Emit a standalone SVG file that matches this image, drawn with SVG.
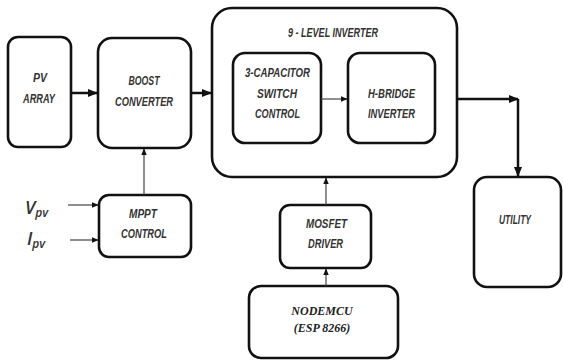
<svg xmlns="http://www.w3.org/2000/svg" width="563" height="361" viewBox="0 0 563 361">
  <defs>
    <marker id="ah" viewBox="0 0 10 10" refX="9" refY="5" markerWidth="4" markerHeight="4" orient="auto" markerUnits="strokeWidth">
      <path d="M0,1 L10,5 L0,9 Z" fill="#111"/>
    </marker>
    <marker id="ahs" viewBox="0 0 10 10" refX="9" refY="5" markerWidth="6" markerHeight="6" orient="auto" markerUnits="strokeWidth">
      <path d="M0,1 L10,5 L0,9 Z" fill="#111"/>
    </marker>
  </defs>
  <style>
    .box { fill: #fff; stroke: #111; stroke-width: 2.6; }
    .lbl { font-family: "Liberation Sans", Arial, sans-serif; font-weight: bold; font-style: italic; font-size: 12px; fill: #333; text-anchor: middle; }
    .ser { font-family: "Liberation Serif", "Times New Roman", serif; font-weight: bold; font-style: italic; font-size: 12px; fill: #222; text-anchor: middle; }
    .sym { font-family: "Open Sans", "Liberation Sans", sans-serif; font-style: italic; font-weight: 600; fill: #333; }
    .thick { fill: none; stroke: #111; stroke-width: 2.5; }
    .thin { fill: none; stroke: #444; stroke-width: 1.2; }
  </style>
  <rect width="563" height="361" fill="#fff"/>

  <g id="pv-array">
    <rect class="box" x="8" y="37" width="63" height="110" rx="10"/>
    <text class="lbl" x="40" y="82" textLength="14" lengthAdjust="spacingAndGlyphs">PV</text>
    <text class="lbl" x="39" y="103" textLength="32" lengthAdjust="spacingAndGlyphs">ARRAY</text>
  </g>

  <g id="boost-converter">
    <rect class="box" x="98" y="38" width="93" height="110" rx="14"/>
    <text class="lbl" x="144" y="85" textLength="31" lengthAdjust="spacingAndGlyphs">BOOST</text>
    <text class="lbl" x="144" y="106" textLength="58" lengthAdjust="spacingAndGlyphs">CONVERTER</text>
  </g>

  <g id="inverter">
    <rect class="box" x="212" y="8" width="245" height="169" rx="20"/>
    <text class="lbl" x="333" y="37" textLength="90" lengthAdjust="spacingAndGlyphs">9 - LEVEL INVERTER</text>
  </g>

  <g id="capacitor-switch">
    <rect class="box" x="233" y="53" width="88" height="90" rx="12"/>
    <text class="lbl" x="277.5" y="77" textLength="65" lengthAdjust="spacingAndGlyphs">3-CAPACITOR</text>
    <text class="lbl" x="277" y="98" textLength="40" lengthAdjust="spacingAndGlyphs">SWITCH</text>
    <text class="lbl" x="277.5" y="118" textLength="45" lengthAdjust="spacingAndGlyphs">CONTROL</text>
  </g>

  <g id="h-bridge">
    <rect class="box" x="348" y="53" width="87" height="90" rx="12"/>
    <text class="lbl" x="391.5" y="98" textLength="47" lengthAdjust="spacingAndGlyphs">H-BRIDGE</text>
    <text class="lbl" x="391.5" y="118" textLength="47" lengthAdjust="spacingAndGlyphs">INVERTER</text>
  </g>

  <g id="utility">
    <rect class="box" x="474" y="177" width="87" height="110" rx="13"/>
    <text class="lbl" x="515" y="224" textLength="32" lengthAdjust="spacingAndGlyphs">UTILITY</text>
  </g>

  <g id="mppt">
    <rect class="box" x="99" y="195" width="92" height="62" rx="10"/>
    <text class="lbl" x="143" y="218" textLength="28" lengthAdjust="spacingAndGlyphs">MPPT</text>
    <text class="lbl" x="144" y="238" textLength="46" lengthAdjust="spacingAndGlyphs">CONTROL</text>
  </g>

  <g id="mosfet-driver">
    <rect class="box" x="280" y="205" width="91" height="63" rx="10"/>
    <text class="lbl" x="326.5" y="228" textLength="41" lengthAdjust="spacingAndGlyphs">MOSFET</text>
    <text class="lbl" x="325.5" y="248" textLength="35" lengthAdjust="spacingAndGlyphs">DRIVER</text>
  </g>

  <g id="nodemcu">
    <rect class="box" x="249" y="286" width="149" height="72" rx="12"/>
    <text class="ser" x="322" y="315">NODEMCU</text>
    <text class="ser" x="322" y="332">(ESP 8266)</text>
  </g>

  <g id="inputs">
    <text class="sym" x="25" y="214" font-size="18">V<tspan font-size="12" dy="3">pv</tspan></text>
    <text class="sym" x="27" y="245" font-size="18">I<tspan font-size="12" dy="3">pv</tspan></text>
  </g>

  <g id="connectors">
    <line class="thick" x1="71" y1="93" x2="97" y2="93" marker-end="url(#ah)"/>
    <line class="thick" x1="191" y1="93" x2="211" y2="93" marker-end="url(#ah)"/>
    <line class="thin" x1="321" y1="99" x2="347" y2="99" marker-end="url(#ahs)"/>
    <line class="thick" x1="457" y1="99" x2="518" y2="99" marker-end="url(#ah)"/>
    <line class="thick" x1="518" y1="99" x2="518" y2="176" marker-end="url(#ah)"/>
    <line class="thin" x1="144" y1="195" x2="144" y2="149" marker-end="url(#ahs)"/>
    <line class="thin" x1="68" y1="205" x2="98" y2="205" marker-end="url(#ahs)"/>
    <line class="thin" x1="70" y1="240" x2="98" y2="240" marker-end="url(#ahs)"/>
    <line class="thin" x1="326" y1="205" x2="326" y2="178" marker-end="url(#ahs)"/>
    <line class="thin" x1="326" y1="286" x2="326" y2="269" marker-end="url(#ahs)"/>
  </g>
</svg>
